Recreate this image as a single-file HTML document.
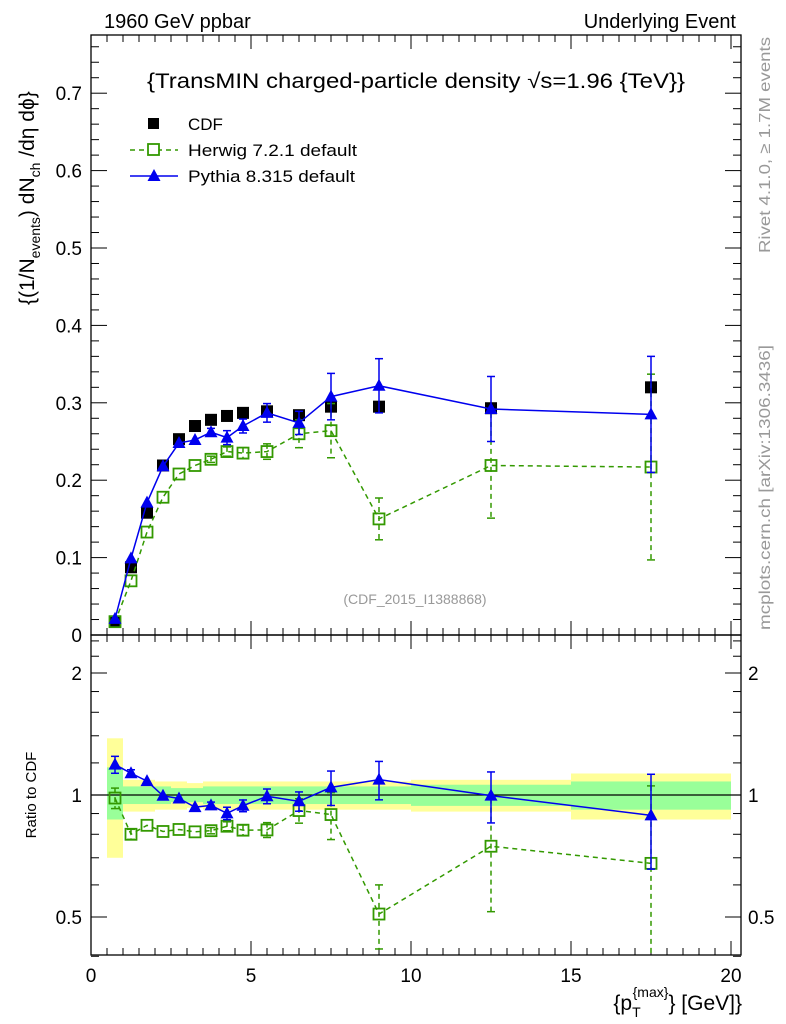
<!DOCTYPE html>
<html><head><meta charset="utf-8"><style>body{margin:0;background:#fff}svg{display:block;font-family:"Liberation Sans",sans-serif}</style></head>
<body>
<svg id="c" width="786" height="1024"></svg>
<script>
const xs=[0.75,1.25,1.75,2.25,2.75,3.25,3.75,4.25,4.75,5.5,6.5,7.5,9,12.5,17.5];
const cdfVals=[0.0175,0.0875,0.158,0.219,0.253,0.270,0.278,0.283,0.287,0.289,0.284,0.295,0.295,0.293,0.320];
const pythiaVals=[0.0208,0.099,0.171,0.218,0.248,0.252,0.262,0.255,0.270,0.287,0.274,0.308,0.322,0.292,0.285];
const pythiaErr=[0.001,0.002,0.002,0.002,0.003,0.003,0.005,0.009,0.009,0.012,0.015,0.03,0.035,0.042,0.075];
const herwigVals=[0.0172,0.070,0.133,0.178,0.208,0.219,0.227,0.237,0.235,0.237,0.260,0.264,0.150,0.219,0.217];
const herwigErr=[0.001,0.002,0.002,0.002,0.003,0.003,0.004,0.006,0.007,0.010,0.018,0.035,0.027,0.068,0.12];
const binEdges=[0.5,1,1.5,2,2.5,3,3.5,4,4.5,5,6,7,8,10,15,20];
const bandYellowUp=[1.38,1.09,1.09,1.08,1.08,1.07,1.08,1.08,1.08,1.08,1.08,1.08,1.08,1.09,1.13];
const bandYellowDn=[0.70,0.91,0.91,0.92,0.92,0.93,0.92,0.92,0.92,0.92,0.92,0.92,0.92,0.91,0.87];
const bandGreenUp=[1.17,1.05,1.05,1.05,1.04,1.04,1.05,1.05,1.05,1.05,1.05,1.05,1.05,1.06,1.08];
const bandGreenDn=[0.87,0.95,0.95,0.95,0.96,0.96,0.95,0.95,0.95,0.95,0.95,0.95,0.95,0.94,0.92];
const xTicks=[0,5,10,15,20];
const yTicks=[0,0.1,0.2,0.3,0.4,0.5,0.6,0.7];

const L=91,R=741,T=35,MB=635,RB=955;
const X=v=>L+v*32;
const Y=v=>MB-v*774;
const RY=r=>795-122*Math.log2(r);
const svg=document.getElementById('c');
const NS='http://www.w3.org/2000/svg';
function mk(t,a,p,txt){const e=document.createElementNS(NS,t);for(const k in a)e.setAttribute(k,a[k]);if(txt!==undefined)e.textContent=txt;(p||svg).appendChild(e);return e;}

binEdges.slice(0,-1).forEach((e,i)=>{
 const b=mk('rect',{x:X(e),y:RY(bandYellowUp[i]),width:X(binEdges[i+1])-X(e),height:RY(bandYellowDn[i])-RY(bandYellowUp[i]),fill:'#ffff99',stroke:'none'});
 
 const g=mk('rect',{x:X(e),y:RY(bandGreenUp[i]),width:X(binEdges[i+1])-X(e),height:RY(bandGreenDn[i])-RY(bandGreenUp[i]),fill:'#99ff99',stroke:'none'});
 
});
mk('line',{x1:L,x2:R,y1:RY(1),y2:RY(1),stroke:'#000','stroke-width':1.2});

const f1=mk('rect',{x:L,y:T,width:R-L,height:MB-T,fill:'none',stroke:'#000','stroke-width':1.3});

const f2=mk('rect',{x:L,y:MB,width:R-L,height:RB-MB,fill:'none',stroke:'#000','stroke-width':1.3});


for(let v=0;v<=20.01;v+=0.5){const maj=Math.abs(v%5)<0.01;const l=maj?14:7;
 [[MB,-1],[T,1],[RB,-1],[MB,1]].forEach(([y0,d])=>mk('line',{x1:X(v),x2:X(v),y1:y0,y2:y0+d*l,stroke:'#000'}));}
xTicks.forEach(v=>{const t=mk('text',{x:X(v),y:982,'font-size':19,'text-anchor':'middle'},null,v);});
for(let v=0;v<=0.761;v+=0.02){const maj=Math.abs(v*10-Math.round(v*10))<0.01;const l=maj?16:8;
 mk('line',{x1:L,x2:L+l,y1:Y(v),y2:Y(v),stroke:'#000'});mk('line',{x1:R,x2:R-l,y1:Y(v),y2:Y(v),stroke:'#000'});}
yTicks.forEach(v=>{const t=mk('text',{x:82,y:Y(v)+7,'font-size':19,'text-anchor':'end'},null,v===0?'0':v.toFixed(1));});
[0.4,0.5,0.6,0.7,0.8,0.9,1,1.2,1.4,1.6,1.8,2,2.2,2.4].forEach(v=>{const maj=(v===0.5||v===1||v===2);const l=maj?16:8;
 mk('line',{x1:L,x2:L+l,y1:RY(v),y2:RY(v),stroke:'#000'});mk('line',{x1:R,x2:R-l,y1:RY(v),y2:RY(v),stroke:'#000'});});
[[0.5,'0.5'],[1,'1'],[2,'2']].forEach(([v,s])=>{mk('text',{x:82,y:RY(v)+7,'font-size':19,'text-anchor':'end'},null,s);mk('text',{x:748,y:RY(v)+7,'font-size':19},null,s);});

function series(vals,errs,color,dash,marker,name,yf,ratio){
 const g=mk('g',{});
 const pts=xs.map((x,i)=>[X(x),yf(ratio?vals[i]/cdfVals[i]:vals[i])]);
 mk('polyline',{points:pts.map(p=>p.join(',')).join(' '),fill:'none',stroke:color,'stroke-width':1.5,'stroke-dasharray':dash},g);
 xs.forEach((x,i)=>{const v=ratio?vals[i]/cdfVals[i]:vals[i];const e=ratio?errs[i]/cdfVals[i]:errs[i];
  const y1=yf(v+e),y2=yf(Math.max(v-e,0.001));const cx=X(x);
  if(y2-y1>6){mk('line',{x1:cx,x2:cx,y1:Math.max(y1,ratio?MB:T),y2:Math.min(y2,ratio?RB:MB),stroke:color,'stroke-width':1.5,'stroke-dasharray':dash},g);
   mk('line',{x1:cx-4,x2:cx+4,y1:y1,y2:y1,stroke:color,'stroke-width':1.5},g);
   if(y2<(ratio?RB:MB))mk('line',{x1:cx-4,x2:cx+4,y1:y2,y2:y2,stroke:color,'stroke-width':1.5},g);}
  const cy=yf(v);
  if(marker==='sq')mk('rect',{x:cx-5.5,y:cy-5.5,width:11,height:11,fill:'none',stroke:color,'stroke-width':1.8},g);
  else mk('polygon',{points:`${cx},${cy-7} ${cx-6.5},${cy+5} ${cx+6.5},${cy+5}`,fill:color},g);
 });
}
xs.forEach((x,i)=>{const r=mk('rect',{x:X(x)-6,y:Y(cdfVals[i])-6,width:12,height:12,fill:'#000'});});
series(herwigVals,herwigErr,'#339900','5,4','sq','herwig-series',Y,false);
series(pythiaVals,pythiaErr,'#0000ee','','tri','pythia-series',Y,false);
series(herwigVals,herwigErr,'#339900','5,4','sq','herwig-ratio-series',RY,true);
series(pythiaVals,pythiaErr,'#0000ee','','tri','pythia-ratio-series',RY,true);
</script>
<svg width="786" height="1024" style="position:absolute;left:0;top:0" font-family="Liberation Sans, sans-serif">
<text x="104" y="28" font-size="20">1960 GeV ppbar</text>
<text x="736" y="28" font-size="20" text-anchor="end">Underlying Event</text>
<text x="147" y="88" font-size="21" textLength="538" lengthAdjust="spacingAndGlyphs">{TransMIN charged-particle density √s=1.96 {TeV}}</text>
<g font-size="17">
<rect x="148" y="118" width="11" height="11" fill="#000"/><text x="188" y="130">CDF</text>
<line x1="130" x2="178" y1="150" y2="150" stroke="#339900" stroke-width="1.5" stroke-dasharray="5,4"/><rect x="148" y="144" width="11" height="11" fill="#fff" stroke="#339900" stroke-width="1.8"/><text x="188" y="156" textLength="169" lengthAdjust="spacingAndGlyphs">Herwig 7.2.1 default</text>
<line x1="130" x2="178" y1="176" y2="176" stroke="#0000ee" stroke-width="1.5"/><polygon points="154,169 147.5,181 160.5,181" fill="#0000ee"/><text x="188" y="182" textLength="167" lengthAdjust="spacingAndGlyphs">Pythia 8.315 default</text>
</g>
<text x="415" y="604" font-size="14" fill="#999" text-anchor="middle">(CDF_2015_I1388868)</text>
<text transform="translate(34,305) rotate(-90)" font-size="21">{(1/N<tspan font-size="14" dy="6">events</tspan><tspan dy="-6">) dN</tspan><tspan font-size="14" dy="6">ch</tspan><tspan dy="-6"> /dη  dϕ}</tspan></text>
<text transform="translate(36,795) rotate(-90)" font-size="15" text-anchor="middle">Ratio to CDF</text>
<text x="742" y="1010" font-size="21" text-anchor="end">{p<tspan font-size="14" dy="7">T</tspan><tspan font-size="14" dy="-20" dx="-8">{max}</tspan><tspan dy="13">} [GeV]}</tspan></text>
<text transform="translate(770,253) rotate(-90)" font-size="16" fill="#999" textLength="216" lengthAdjust="spacingAndGlyphs">Rivet 4.1.0, ≥ 1.7M events</text>
<text transform="translate(770,630) rotate(-90)" font-size="16" fill="#999" textLength="285" lengthAdjust="spacingAndGlyphs">mcplots.cern.ch [arXiv:1306.3436]</text>
</svg>
</body></html>
